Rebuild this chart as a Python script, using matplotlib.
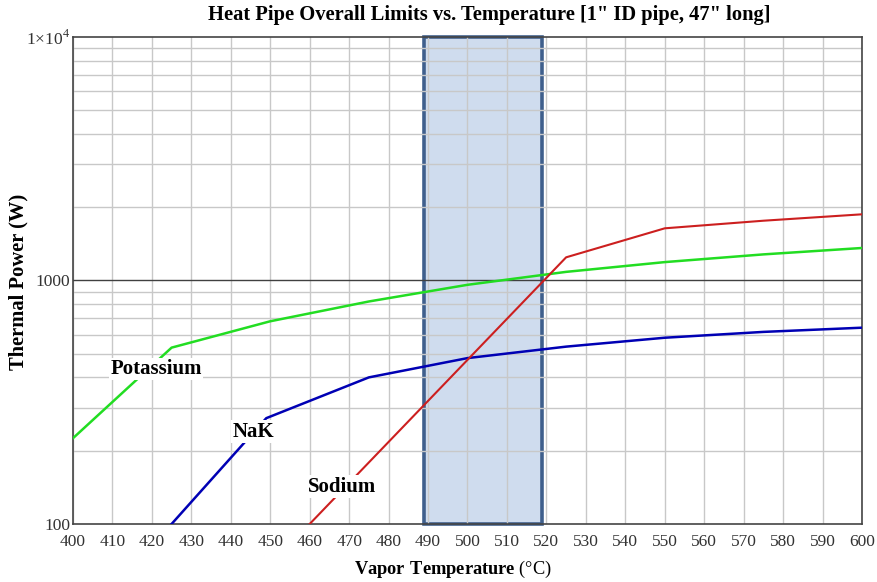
import numpy as np
import matplotlib
matplotlib.use("Agg")
import matplotlib.pyplot as plt
from matplotlib.patches import Rectangle
from matplotlib.ticker import FixedLocator, LogLocator, NullFormatter

plt.rcParams['font.family'] = ['Liberation Serif', 'DejaVu Serif']
plt.rcParams['mathtext.fontset'] = 'custom'
plt.rcParams['mathtext.rm'] = 'Liberation Serif'
plt.rcParams['mathtext.bf'] = 'Liberation Serif:bold'

# curve data (temperature in C, power in W)
potassium_t = [400, 425, 450, 475, 500, 525, 550, 575, 600]
potassium_w = [225, 530, 680, 820, 960, 1085, 1190, 1280, 1360]

nak_t = [425, 449, 475, 500, 525, 550, 575, 600]
nak_w = [100, 272, 400, 480, 535, 582, 615, 640]

sodium_t = [460, 525, 550, 575, 600]
sodium_w = [100, 1245, 1638, 1760, 1870]

band_lo, band_hi = 489, 519
x_ticks = list(range(400, 601, 10))

fig = plt.figure(figsize=(8.78, 5.82), dpi=100)
ax = fig.add_axes([0.0831, 0.0997, 0.8987, 0.8367])

ax.set_yscale('log')
ax.set_xlim(400, 600)
ax.set_ylim(100, 1e4)

# shaded operating band
ax.add_patch(Rectangle((band_lo, 100), band_hi - band_lo, 1e4 - 100,
                       facecolor='#cfdcee', edgecolor='#3f5f8c', lw=2.6,
                       zorder=1.5, clip_on=False))

ax.plot(potassium_t, potassium_w, color='#22dd22', lw=1.8, zorder=3)
ax.plot(nak_t, nak_w, color='#0000b4', lw=1.8, zorder=3)
ax.plot(sodium_t, sodium_w, color='#cc1f1f', lw=1.5, zorder=3)

# grid
ax.xaxis.set_major_locator(FixedLocator(x_ticks))
ax.yaxis.set_major_locator(FixedLocator([100, 1000, 10000]))
ax.yaxis.set_minor_locator(LogLocator(base=10, subs=np.arange(2, 10)))
ax.yaxis.set_minor_formatter(NullFormatter())
ax.set_yticklabels(['100', '1000', r'1$\times$10$^4$'])
ax.grid(True, which='major', axis='x', color='#c8c8c8', lw=1.0, zorder=1)
ax.grid(True, which='minor', axis='y', color='#c8c8c8', lw=1.0, zorder=1)
ax.axhline(1000, color='#404040', lw=1.0, zorder=2)

ax.tick_params(axis='both', which='both', length=0, labelsize=12.5,
               colors='#333333')
ax.tick_params(axis='x', pad=7)
ax.tick_params(axis='y', pad=2)
for s in ax.spines.values():
    s.set_color('#444444')
    s.set_linewidth(1.2)

label_kw = dict(fontsize=15, fontweight='bold', zorder=4,
                bbox=dict(facecolor='white', edgecolor='none', pad=1))
ax.text(409.5, 433, 'Potassium', **label_kw, va='center')
ax.text(440.5, 239, 'NaK', **label_kw, va='center')
ax.text(459.5, 142, 'Sodium', **label_kw, va='center')

fig.text(0.557, 0.974, 'Heat Pipe Overall Limits vs. Temperature [1" ID pipe, 47" long]',
         ha='center', va='center', fontsize=14.8, fontweight='bold')
fig.text(0.516, 0.021, r'$\mathbf{Vapor\ Temperature}$ (°C)',
         ha='center', va='center', fontsize=13.2)
fig.text(0.021, 0.515, 'Thermal Power (W)', rotation=90,
         ha='center', va='center', fontsize=14.8, fontweight='bold')

fig.savefig('out.png', dpi=100)
